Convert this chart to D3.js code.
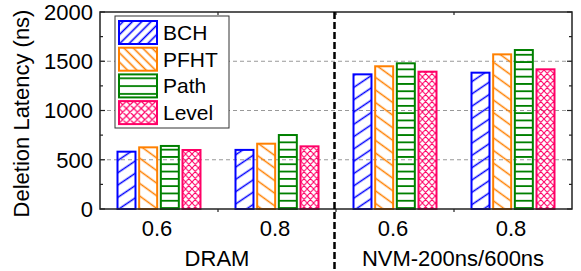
<!DOCTYPE html>
<html>
<head>
<meta charset="utf-8">
<script src="https://cdn.jsdelivr.net/npm/d3@7"></script>
<style>
  body { margin: 0; background: #fff; }
  text { font-family: "Liberation Sans", Arial, sans-serif; fill: #000; }
</style>
</head>
<body>
<svg id="chart" width="581" height="271"></svg>
<script>
// data
const groups = ["DRAM", "NVM-200ns/600ns"];
const ratios = ["0.6", "0.8", "0.6", "0.8"];
const series = ["BCH", "PFHT", "Path", "Level"];
const bch = [582, 600, 1367, 1384];
const pfht = [626, 663, 1449, 1570];
const pathVals = [640, 751, 1479, 1614];
const level = [599, 636, 1394, 1418];
const yTicks = [0, 500, 1000, 1500, 2000];

const values = [bch, pfht, pathVals, level];
const colors = ["#0000FF", "#FF8000", "#008000", "#FF0066"];

const W = 581, H = 271;
const margin = {left: 100, right: 9, top: 12, bottom: 62};
const svg = d3.select("#chart");
svg.append("rect").attr("width", W).attr("height", H).attr("fill", "#fff");

const x0 = d3.scaleBand().domain(d3.range(ratios.length)).range([margin.left, W - margin.right]);
const x1 = d3.scaleBand().domain(series).range([0, 83]).paddingInner(0.17);
const y = d3.scaleLinear().domain([0, 2000]).range([H - margin.bottom, margin.top]);

// hatch patterns
const defs = svg.append("defs");
function lineHatch(id, color, size, angle, sw) {
    const p = defs.append("pattern").attr("id", id).attr("patternUnits", "userSpaceOnUse")
        .attr("width", 10).attr("height", size).attr("patternTransform", `rotate(${angle})`);
    p.append("path").attr("d", `M-1,${size / 2}H11`).attr("stroke", color).attr("stroke-width", sw);
}
function crossHatch(id, color, w, h, sw) {
    const p = defs.append("pattern").attr("id", id).attr("patternUnits", "userSpaceOnUse")
        .attr("width", w).attr("height", h);
    p.append("path").attr("d", `M0,0L${w},${h}M${w},0L0,${h}M-1,${h - 1}L1,${h + 1}M${w - 1},-1L${w + 1},1`)
        .attr("stroke", color).attr("stroke-width", sw).attr("fill", "none");
}
lineHatch("p0", colors[0], 10.2, -34, 1.5);
lineHatch("p1", colors[1], 10.2, 36, 1.5);
lineHatch("p2", colors[2], 7.3, 0, 1.8);
crossHatch("p3", colors[3], 6.4, 7, 1.1);
// legend swatches use a finer hatch
lineHatch("l0", colors[0], 6.6, -45, 1.6);
lineHatch("l1", colors[1], 6.6, 45, 1.6);
lineHatch("l2", colors[2], 7.8, 0, 1.8);
crossHatch("l3", colors[3], 7.4, 7.4, 1.2);

// grid lines
svg.append("g").selectAll("line").data([500, 1000, 1500]).join("line")
    .attr("x1", margin.left).attr("x2", W - margin.right)
    .attr("y1", d => y(d)).attr("y2", d => y(d))
    .attr("stroke", "#999").attr("stroke-width", 1).attr("stroke-dasharray", "4,3");

// bars
const bars = svg.append("g");
series.forEach((s, si) => {
    const g = bars.append("g");
    g.selectAll("rect").data(values[si]).join("rect")
        .attr("x", (d, i) => x0(i) + (x0.bandwidth() - 83) / 2 + x1(s))
        .attr("y", d => y(d))
        .attr("width", x1.bandwidth())
        .attr("height", d => y(0) - y(d))
        .attr("fill", `url(#p${si})`)
        .attr("stroke", colors[si]).attr("stroke-width", 2);
});

// axes frame
const minor = d3.range(0, 2001, 250);
const axes = svg.append("g");
axes.selectAll(".tickL").data(minor).join("line")
    .attr("x1", margin.left).attr("x2", d => margin.left + (d % 500 ? 3 : 5))
    .attr("y1", d => y(d)).attr("y2", d => y(d)).attr("stroke", "#222").attr("stroke-width", 1.2);
axes.selectAll(".tickR").data(minor).join("line")
    .attr("x1", W - margin.right).attr("x2", d => W - margin.right - (d % 500 ? 3 : 5))
    .attr("y1", d => y(d)).attr("y2", d => y(d)).attr("stroke", "#222").attr("stroke-width", 1.2);
const bounds = [1, 2, 3].map(i => x0(i));
axes.selectAll(".tickB").data(bounds).join("line")
    .attr("x1", d => d).attr("x2", d => d).attr("y1", y(0)).attr("y2", y(0) + 3)
    .attr("stroke", "#222").attr("stroke-width", 1.2);
axes.selectAll(".tickT").data(bounds).join("line")
    .attr("x1", d => d).attr("x2", d => d).attr("y1", y(2000)).attr("y2", y(2000) + 3)
    .attr("stroke", "#222").attr("stroke-width", 1.2);
axes.append("rect").attr("x", margin.left).attr("y", margin.top)
    .attr("width", W - margin.left - margin.right).attr("height", y(0) - margin.top)
    .attr("fill", "none").attr("stroke", "#222").attr("stroke-width", 1.5);

// y tick labels
svg.append("g").selectAll("text").data(yTicks).join("text")
    .attr("x", margin.left - 7).attr("y", d => y(d)).attr("dy", "0.36em")
    .attr("text-anchor", "end").attr("font-size", 22).text(d => d);

// x tick labels
svg.append("g").selectAll("text").data(ratios).join("text")
    .attr("x", (d, i) => x0(i) + x0.bandwidth() / 2 - 2).attr("y", 236)
    .attr("text-anchor", "middle").attr("font-size", 22).text(d => d);

// group labels
svg.append("g").selectAll("text").data(groups).join("text")
    .attr("x", (d, i) => x0(i * 2 + 1) - 1).attr("y", 266)
    .attr("text-anchor", "middle").attr("font-size", 22).text(d => d);

// divider
svg.append("line").attr("x1", x0(2) - 1.5).attr("x2", x0(2) - 1.5)
    .attr("y1", margin.top).attr("y2", H)
    .attr("stroke", "#000").attr("stroke-width", 2.5).attr("stroke-dasharray", "7,3");

// y title
svg.append("text").attr("transform", `translate(29,${(y(0) + y(2000)) / 2 + 3}) rotate(-90)`)
    .attr("text-anchor", "middle").attr("font-size", 22).text("Deletion Latency (ns)");

// legend
const leg = svg.append("g").attr("transform", "translate(115,16)");
leg.append("rect").attr("width", 114).attr("height", 112)
    .attr("fill", "#fff").attr("stroke", "#333").attr("stroke-width", 1);
series.forEach((s, si) => {
    const row = leg.append("g").attr("transform", `translate(4,${5 + si * 26.7})`);
    row.append("rect").attr("width", 38).attr("height", 23)
        .attr("fill", `url(#l${si})`).attr("stroke", colors[si]).attr("stroke-width", 2);
    row.append("text").attr("x", 44).attr("y", 11.5).attr("dy", "0.36em")
        .attr("font-size", 21).text(s);
});
</script>
</body>
</html>
